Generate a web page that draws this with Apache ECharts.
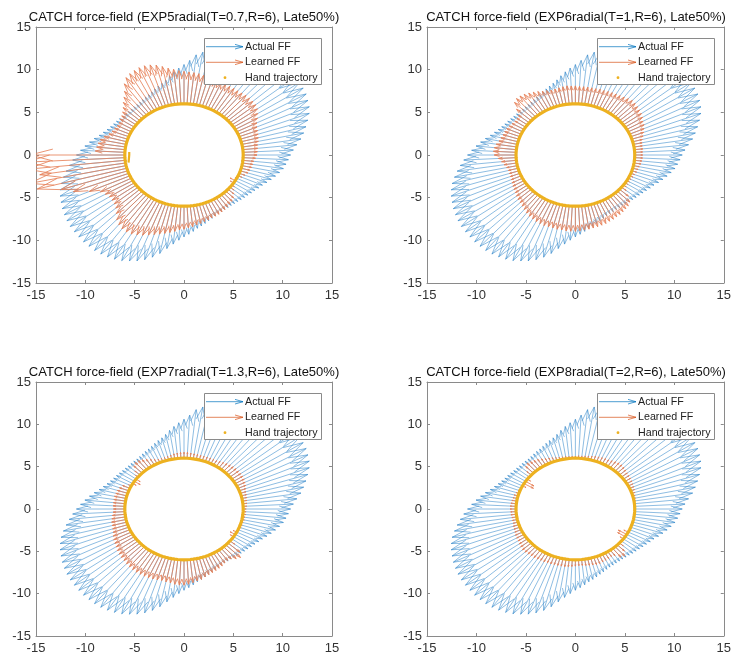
<!DOCTYPE html>
<html>
<head>
<meta charset="utf-8">
<script src="https://cdn.jsdelivr.net/npm/echarts@6/dist/echarts.min.js"></script>
<style>
  html, body { margin: 0; padding: 0; background: #ffffff; }
  #chart { width: 734px; height: 657px; }
</style>
</head>
<body>
<div id="chart"></div>
<script>
// ---- data ---------------------------------------------------------------
// Hand positions: one arrow every 3 degrees round the R = 6 reach circle
const ARROW_COUNT = 120;
const REACH_RADIUS = 6;

const panelTitles = [
  'CATCH force-field (EXP5radial(T=0.7,R=6), Late50%)',
  'CATCH force-field (EXP6radial(T=1,R=6), Late50%)',
  'CATCH force-field (EXP7radial(T=1.3,R=6), Late50%)',
  'CATCH force-field (EXP8radial(T=2,R=6), Late50%)'
];
const axisTicks = [-15, -10, -5, 0, 5, 10, 15];
const legendNames = ['Actual FF', 'Learned FF', 'Hand trajectory'];

// Applied (actual) force magnitude at each hand position, same in all panels
const actualFF = [
  4.8, 5.1, 5.5, 6.0, 6.4, 6.8, 7.2, 7.6, 7.9, 8.1,
  8.3, 8.4, 8.5, 8.5, 8.45, 8.35, 8.2, 8.0, 7.8, 7.6,
  7.4, 7.2, 7.0, 6.8, 6.6, 6.45, 6.3, 6.2, 5.8, 5.1,
  4.6, 4.2, 3.8, 3.4, 3.0, 2.7, 2.5, 2.3, 2.1, 1.95,
  1.85, 1.75, 1.65, 1.6, 1.6, 1.6, 1.6, 1.65, 1.7, 1.8,
  1.9, 2.0, 2.15, 2.35, 2.6, 2.9, 3.3, 3.7, 4.1, 4.5,
  4.9, 5.3, 5.7, 6.1, 6.5, 6.9, 7.2, 7.45, 7.65, 7.85,
  8.0, 8.15, 8.25, 8.3, 8.35, 8.4, 8.4, 8.4, 8.35, 8.25,
  8.1, 7.9, 7.6, 7.3, 6.9, 6.4, 5.8, 5.1, 4.5, 4.0,
  3.6, 3.3, 3.0, 2.7, 2.5, 2.3, 2.1, 1.95, 1.8, 1.7,
  1.65, 1.6, 1.6, 1.6, 1.65, 1.7, 1.8, 1.9, 2.0, 2.15,
  2.3, 2.5, 2.7, 3.0, 3.3, 3.6, 3.9, 4.2, 4.4, 4.6
];

// Learned force magnitude (negative = pointing inwards)
const learnedEXP5 = [
  1.4, 1.45, 1.5, 1.55, 1.7, 1.8, 1.9, 2.0, 2.1, 2.3,
  2.6, 2.9, 3.2, 3.35, 3.4, 3.4, 3.4, 3.35, 3.3, 3.3,
  3.3, 3.3, 3.3, 3.3, 3.35, 3.45, 3.55, 3.65, 3.7, 3.75,
  3.8, 3.9, 4.1, 4.3, 4.6, 4.9, 5.1, 5.2, 5.2, 5.1,
  5.0, 4.8, 4.3, 3.6, 3.1, 2.7, 2.3, 2.0, 1.8, 1.7,
  1.6, 1.6, 1.7, 1.8, 2.0, 2.4, 2.7, 2.8, 2.9, 3.0,
  9.6, 10.0, 10.0, 8.8, 10.0, 9.4, 7.1, 6.0, 4.5, 3.5,
  3.2, 3.0, 3.0, 3.1, 3.3, 3.7, 4.2, 4.5, 4.7, 4.75,
  4.7, 4.5, 4.3, 4.05, 3.8, 3.6, 3.4, 3.2, 3.0, 2.8,
  2.7, 2.55, 2.45, 2.3, 2.2, 2.1, 2.0, 1.9, 1.85, 1.8,
  1.7, 1.6, 1.5, 1.4, 1.3, 1.1, 0.8, 0.5, 0.3, -0.4,
  -0.6, -0.2, 0.4, 0.6, 0.8, 0.9, 1.0, 1.05, 1.1, 1.25
];
const learnedEXP6 = [
  0.8, 0.8, 0.85, 0.85, 0.9, 1.0, 1.2, 1.4, 1.6, 1.8,
  1.9, 2.1, 2.25, 2.35, 2.45, 2.55, 2.6, 2.5, 2.4, 2.3,
  2.25, 2.2, 2.15, 2.1, 2.1, 2.05, 2.05, 2.05, 2.05, 2.05,
  2.1, 2.1, 2.15, 2.1, 2.05, 2.0, 2.0, 2.1, 2.2, 2.35,
  2.5, 2.65, 2.8, 2.9, 2.9, 2.7, 2.0, 1.4, 1.3, 1.3,
  1.4, 1.5, 1.6, 1.65, 1.7, 1.8, 1.9, 2.1, 2.25, 2.3,
  2.2, 1.8, 1.5, 1.3, 1.1, 1.0, 1.0, 1.05, 1.1, 1.2,
  1.3, 1.4, 1.5, 1.65, 1.8, 1.9, 2.05, 2.2, 2.4, 2.55,
  2.65, 2.75, 2.8, 2.85, 2.85, 2.85, 2.9, 2.9, 2.95, 2.95,
  2.95, 2.9, 2.85, 2.8, 2.75, 2.7, 2.65, 2.6, 2.5, 2.45,
  2.35, 2.3, 2.2, 2.1, 2.0, 1.8, 1.2, 0.6, 0.35, 0.3,
  0.3, 0.3, 0.35, 0.4, 0.5, 0.55, 0.6, 0.7, 0.75, 0.8
];
const learnedEXP7 = [
  0.3, 0.35, 0.4, 0.45, 0.5, 0.55, 0.6, 0.7, 0.85, 0.95,
  1.05, 1.1, 1.1, 1.1, 1.1, 1.05, 1.0, 0.9, 0.8, 0.7,
  0.6, 0.6, 0.6, 0.55, 0.55, 0.55, 0.6, 0.6, 0.65, 0.7,
  0.7, 0.7, 0.65, 0.6, 0.5, 0.45, 0.4, 0.4, 0.45, 0.6,
  0.8, 1.0, 1.2, 1.35, 1.4, 1.2, 0.7, 0.3, -0.5, -0.7,
  -0.4, 0.3, 0.8, 1.0, 1.1, 1.15, 1.2, 1.2, 1.2, 1.2,
  1.15, 1.2, 1.3, 1.4, 1.5, 1.55, 1.6, 1.7, 1.85, 2.0,
  2.1, 2.2, 2.35, 2.45, 2.55, 2.6, 2.7, 2.8, 2.85, 2.9,
  2.9, 2.9, 2.9, 2.85, 2.8, 2.75, 2.8, 2.85, 2.95, 3.0,
  3.0, 2.9, 2.75, 2.6, 2.5, 2.3, 2.15, 2.05, 1.95, 1.85,
  1.75, 1.6, 1.5, 1.6, 1.9, 2.1, 1.6, 0.6, 0.1, -0.4,
  -0.6, -0.4, 0.1, 0.2, 0.2, 0.2, 0.25, 0.25, 0.3, 0.3
];
const learnedEXP8 = [
  0.1, 0.1, 0.15, 0.15, 0.2, 0.25, 0.3, 0.4, 0.45, 0.5,
  0.6, 0.65, 0.7, 0.75, 0.85, 0.95, 1.0, 1.0, 0.9, 0.8,
  0.7, 0.7, 0.65, 0.6, 0.55, 0.45, 0.4, 0.35, 0.3, 0.3,
  0.25, 0.25, 0.25, 0.3, 0.3, 0.35, 0.4, 0.5, 0.6, 0.7,
  0.85, 1.0, 1.1, 1.2, 1.3, 1.1, 0.6, 0.2, -0.4, -1.0,
  -1.1, -0.4, 0.1, 0.2, 0.3, 0.4, 0.45, 0.5, 0.55, 0.6,
  0.6, 0.55, 0.55, 0.5, 0.5, 0.5, 0.6, 0.65, 0.7, 0.8,
  0.85, 0.9, 1.0, 1.1, 1.2, 1.2, 1.15, 1.1, 1.1, 1.05,
  1.0, 1.0, 0.95, 0.95, 0.9, 0.9, 0.9, 0.9, 0.85, 0.8,
  0.75, 0.7, 0.7, 0.75, 0.8, 0.85, 0.9, 0.9, 0.85, 0.8,
  0.75, 0.7, 0.8, 1.3, 1.45, 1.0, 0.5, 0.1, -0.4, -0.9,
  -1.0, -0.5, 0.0, 0.1, 0.1, 0.1, 0.1, 0.1, 0.1, 0.1
];
const learnedFF = [learnedEXP5, learnedEXP6, learnedEXP7, learnedEXP8];

// Short stray stroke of the hand path in the EXP5 session
const handHookEXP5 = [[-5.55, 0.35], [-5.55, 0.0], [-5.58, -0.4], [-5.62, -0.9]];

// ---- styling ------------------------------------------------------------
const COLOR_ACTUAL = '#0072BD';
const COLOR_LEARNED = '#D95319';
const COLOR_HAND = '#EDB120';
const FONT = '"Liberation Sans", Arial, Helvetica, sans-serif';
const HEAD_ALPHA = 0.24;  // arrow-head length relative to the vector
const HEAD_BETA = 0.3;    // arrow-head half width relative to head length

// Panel frames in pixels
const panels = [
  { left: 36,  top: 27,  width: 296, height: 256 },
  { left: 427, top: 27,  width: 298, height: 256 },
  { left: 36,  top: 382, width: 296, height: 254 },
  { left: 427, top: 382, width: 298, height: 254 }
];

// ---- helpers ------------------------------------------------------------
function handPositions() {
  const pts = [];
  for (let i = 0; i < ARROW_COUNT; i++) {
    const a = (i * 360 / ARROW_COUNT) * Math.PI / 180;
    pts.push([REACH_RADIUS * Math.cos(a), REACH_RADIUS * Math.sin(a), a]);
  }
  return pts;
}
const hand = handPositions();

function quiverData(magnitudes) {
  return magnitudes.map((m, i) => {
    const [x, y, a] = hand[i];
    return [x, y, m * Math.cos(a), m * Math.sin(a)];
  });
}

// Quiver arrow: shaft plus an open two-stroke head, clipped to the axes box
function arrowRenderer(color, width) {
  return function (params, api) {
    const x = api.value(0), y = api.value(1), u = api.value(2), v = api.value(3);
    const tx = x + u, ty = y + v;
    const a = HEAD_ALPHA, b = HEAD_BETA;
    const p0 = api.coord([x, y]);
    const p1 = api.coord([tx, ty]);
    const w1 = api.coord([tx - a * (u + b * v), ty - a * (v - b * u)]);
    const w2 = api.coord([tx - a * (u - b * v), ty - a * (v + b * u)]);
    const cs = params.coordSys;
    const style = { stroke: color, lineWidth: width, fill: null };
    return {
      type: 'group',
      clipPath: { type: 'rect', shape: { x: cs.x, y: cs.y, width: cs.width, height: cs.height } },
      children: [
        { type: 'polyline', shape: { points: [p0, p1] }, style: style },
        { type: 'polyline', shape: { points: [w1, p1, w2] }, style: style }
      ]
    };
  };
}

// ---- option -------------------------------------------------------------
const grid = [], xAxis = [], yAxis = [], series = [], graphic = [];
const axisLineStyle = { color: '#8a8a8a', width: 1 };
const labelStyle = { color: '#333333', fontSize: 13, fontFamily: FONT };

panels.forEach((p, k) => {
  grid.push({ left: p.left, top: p.top, width: p.width, height: p.height, containLabel: false });

  const baseAxis = {
    type: 'value', min: axisTicks[0], max: axisTicks[axisTicks.length - 1], interval: 5,
    gridIndex: k, splitLine: { show: false },
    axisLine: { show: true, onZero: false, lineStyle: axisLineStyle },
    axisTick: { show: true, inside: true, length: 3, lineStyle: axisLineStyle }
  };
  xAxis.push(Object.assign({}, baseAxis, { position: 'bottom',
    axisLabel: Object.assign({ margin: 6 }, labelStyle) }));
  xAxis.push(Object.assign({}, baseAxis, { position: 'top', axisLabel: { show: false } }));
  yAxis.push(Object.assign({}, baseAxis, { position: 'left',
    axisLabel: Object.assign({ margin: 5 }, labelStyle) }));
  yAxis.push(Object.assign({}, baseAxis, { position: 'right', axisLabel: { show: false } }));

  const xi = 2 * k, yi = 2 * k;
  series.push({
    name: legendNames[0], type: 'custom', xAxisIndex: xi, yAxisIndex: yi,
    renderItem: arrowRenderer('#2f86c9', 0.55), encode: { x: 0, y: 1 },
    itemStyle: { color: COLOR_ACTUAL }, data: quiverData(actualFF), z: 2, silent: true
  });
  series.push({
    name: legendNames[1], type: 'custom', xAxisIndex: xi, yAxisIndex: yi,
    renderItem: arrowRenderer('#e6825a', 0.85), encode: { x: 0, y: 1 },
    itemStyle: { color: COLOR_LEARNED }, data: quiverData(learnedFF[k]), z: 3, silent: true
  });
  const path = hand.map(h => [h[0], h[1]]);
  path.push([hand[0][0], hand[0][1]]);
  series.push({
    name: legendNames[2], type: 'line', xAxisIndex: xi, yAxisIndex: yi,
    data: path, showSymbol: false, smooth: false,
    lineStyle: { color: COLOR_HAND, width: 3.2 }, z: 4, silent: true
  });
  if (k === 0) {
    series.push({
      name: legendNames[2], type: 'line', xAxisIndex: xi, yAxisIndex: yi,
      data: handHookEXP5, showSymbol: false,
      lineStyle: { color: COLOR_HAND, width: 2.2 }, z: 4, silent: true
    });
  }

  // Title above each panel
  graphic.push({
    type: 'text', z: 50,
    style: { text: panelTitles[k], x: p.left + p.width / 2, y: p.top - 10,
      textAlign: 'center', textVerticalAlign: 'middle', align: 'center', verticalAlign: 'middle',
      fill: '#111111', fontSize: 13, fontFamily: FONT }
  });

  // Legend box in the upper right corner
  const lw = 117, lh = 46;
  const lx = p.left + p.width - 11 - lw, ly = p.top + 11;
  const rows = [ly + 8.7, ly + 24.3, ly + 39.7];
  graphic.push({ type: 'rect', z: 50,
    shape: { x: lx + 0.5, y: ly + 0.5, width: lw, height: lh },
    style: { fill: '#ffffff', stroke: '#8a8a8a', lineWidth: 1 } });
  [COLOR_ACTUAL, COLOR_LEARNED].forEach((c, r) => {
    const y = rows[r];
    graphic.push({ type: 'polyline', z: 51,
      shape: { points: [[lx + 2, y], [lx + 39, y]] }, style: { stroke: c, lineWidth: 0.7, fill: null } });
    graphic.push({ type: 'polyline', z: 51,
      shape: { points: [[lx + 31, y - 2.3], [lx + 39, y], [lx + 31, y + 2.3]] },
      style: { stroke: c, lineWidth: 0.7, fill: null } });
  });
  graphic.push({ type: 'circle', z: 51,
    shape: { cx: lx + 21, cy: rows[2], r: 1.4 }, style: { fill: COLOR_HAND } });
  legendNames.forEach((name, r) => {
    graphic.push({ type: 'text', z: 51,
      style: { text: name, x: lx + 41, y: rows[r], textVerticalAlign: 'middle', verticalAlign: 'middle',
        fill: '#222222', fontSize: 10.7, fontFamily: FONT } });
  });
});

const chart = echarts.init(document.getElementById('chart'), null, { renderer: 'canvas' });
chart.setOption({
  animation: false,
  backgroundColor: '#ffffff',
  textStyle: { fontFamily: FONT },
  grid: grid, xAxis: xAxis, yAxis: yAxis, series: series, graphic: graphic
});
</script>
</body>
</html>
